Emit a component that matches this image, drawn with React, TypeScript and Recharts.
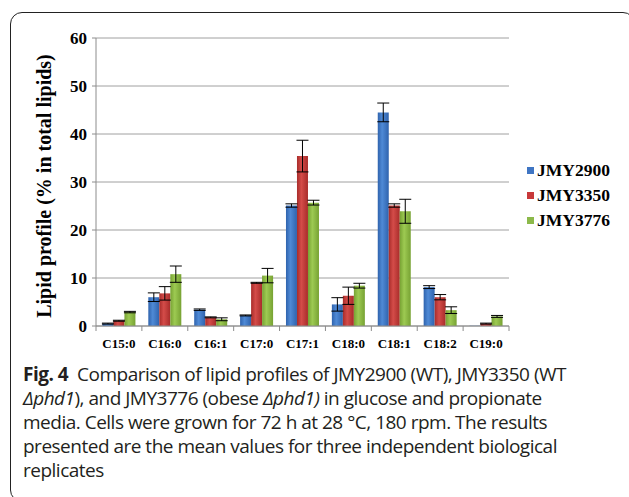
import React from 'react';
import { BarChart, Bar, XAxis, YAxis, CartesianGrid, ErrorBar } from 'recharts';

const categories = ['C15:0', 'C16:0', 'C16:1', 'C17:0', 'C17:1', 'C18:0', 'C18:1', 'C18:2', 'C19:0'];

const jmy2900 = [0.5, 6.0, 3.4, 2.2, 25.1, 4.5, 44.5, 8.1, 0.05];
const jmy2900Err = [0.1, 0.9, 0.15, 0.1, 0.35, 1.4, 1.95, 0.3, 0];
const jmy3350 = [1.1, 6.8, 1.8, 9.0, 35.4, 6.3, 25.1, 6.0, 0.5];
const jmy3350Err = [0.1, 1.4, 0.1, 0.1, 3.3, 1.8, 0.35, 0.55, 0.1];
const jmy3776 = [2.9, 10.8, 1.4, 10.5, 25.7, 8.4, 23.9, 3.3, 2.0];
const jmy3776Err = [0.15, 1.7, 0.3, 1.5, 0.5, 0.5, 2.5, 0.7, 0.2];

const yTicks = [0, 10, 20, 30, 40, 50, 60];

const series = [
  { key: 'JMY2900', err: 'err2900', grad: 'gBlue', swatch: '#3f75c3' },
  { key: 'JMY3350', err: 'err3350', grad: 'gRed', swatch: '#c8393a' },
  { key: 'JMY3776', err: 'err3776', grad: 'gGreen', swatch: '#8cb94a' },
];

const data = categories.map((name, i) => ({
  name,
  JMY2900: jmy2900[i],
  err2900: jmy2900Err[i],
  JMY3350: jmy3350[i],
  err3350: jmy3350Err[i],
  JMY3776: jmy3776[i],
  err3776: jmy3776Err[i],
}));

const serif = '"Liberation Serif", "Times New Roman", serif';

// label centred in the band, with an Excel-style tick on the band edges
function CategoryTick(props: any) {
  const { x, y, payload, index } = props;
  const half = payload && payload.offset ? payload.offset : 22.9;
  const axisY = y - 13;
  return (
    <g>
      <line x1={x - half} y1={axisY} x2={x - half} y2={axisY + 5} stroke="#8c8c8c" />
      {index === categories.length - 1 && (
        <line x1={x + half} y1={axisY} x2={x + half} y2={axisY + 5} stroke="#8c8c8c" />
      )}
      <text x={x} y={y} dy="0.71em" textAnchor="middle" fontFamily={serif} fontWeight="bold" fontSize={13} fill="#000">
        {payload.value}
      </text>
    </g>
  );
}

function Gradient({ id, dark, light }: { id: string; dark: string; light: string }) {
  return (
    <linearGradient id={id} x1="0" y1="0" x2="1" y2="0">
      <stop offset="0%" stopColor={dark} />
      <stop offset="40%" stopColor={light} />
      <stop offset="100%" stopColor={dark} />
    </linearGradient>
  );
}

export default function App() {
  return (
    <div style={{ position: 'absolute', left: 0, top: 0, width: 629, height: 497, overflow: 'hidden', background: '#fff' }}>
      {/* figure frame */}
      <div
        style={{
          position: 'absolute',
          left: 10,
          top: 12,
          width: 625,
          height: 490,
          border: '1.5px solid #222',
          borderRadius: 12,
          boxSizing: 'border-box',
        }}
      />

      <div style={{ position: 'absolute', left: 0, top: 0 }}>
        <BarChart
          width={629}
          height={360}
          data={data}
          margin={{ top: 38, right: 120, bottom: 4, left: 0 }}
          barCategoryGap="14%"
          barGap={0}
        >
          <defs>
            <Gradient id="gBlue" dark="#2f63ad" light="#4f8ad6" />
            <Gradient id="gRed" dark="#a82c2a" light="#d44c49" />
            <Gradient id="gGreen" dark="#77a233" light="#9dca52" />
          </defs>
          <CartesianGrid vertical={false} stroke="#a0a0a0" />
          <XAxis
            dataKey="name"
            tickLine={false}
            tickSize={5}
            tickMargin={8}
            stroke="#8c8c8c"
            interval={0}
            tick={<CategoryTick />}
          />
          <YAxis
            width={96}
            domain={[0, 60]}
            ticks={yTicks}
            stroke="#8c8c8c"
            tickSize={4}
            tickMargin={5}
            tick={{ fontFamily: serif, fontWeight: 'bold', fontSize: 17, fill: '#000' }}
            label={{
              value: 'Lipid profile (% in  total lipids)',
              angle: -90,
              position: 'center',
              dx: -4,
              dy: 4,
              style: { fontFamily: serif, fontWeight: 'bold', fontSize: 20, fill: '#000', whiteSpace: 'pre' },
            }}
          />
          {series.map((s) => (
            <Bar key={s.key} dataKey={s.key} fill={`url(#${s.grad})`} isAnimationActive={false}>
              <ErrorBar dataKey={s.err} width={6} stroke="#000" strokeWidth={1} isAnimationActive={false} />
            </Bar>
          ))}
        </BarChart>
      </div>

      {/* legend */}
      <div style={{ position: 'absolute', left: 527, top: 158, fontFamily: serif, fontWeight: 'bold', fontSize: 17.5 }}>
        {series.map((s) => (
          <div key={s.key} style={{ display: 'flex', alignItems: 'center', height: 25 }}>
            <span style={{ width: 7, height: 7, background: s.swatch, marginRight: 3, display: 'inline-block' }} />
            <span>{s.key}</span>
          </div>
        ))}
      </div>

      {/* caption */}
      <div
        style={{
          position: 'absolute',
          left: 23,
          top: 362,
          fontFamily: '"Open Sans", sans-serif',
          fontSize: 19,
          lineHeight: '24px',
          letterSpacing: -0.5,
          color: '#231f20',
          whiteSpace: 'nowrap',
        }}
      >
        <div>
          <b>Fig. 4</b>&nbsp; Comparison of lipid profiles of JMY2900 (WT), JMY3350 (WT
        </div>
        <div>
          <i>Δphd1</i>), and JMY3776 (obese <i>Δphd1)</i> in glucose and propionate
        </div>
        <div>media. Cells were grown for 72 h at 28 °C, 180 rpm. The results</div>
        <div>presented are the mean values for three independent biological</div>
        <div>replicates</div>
      </div>
    </div>
  );
}
